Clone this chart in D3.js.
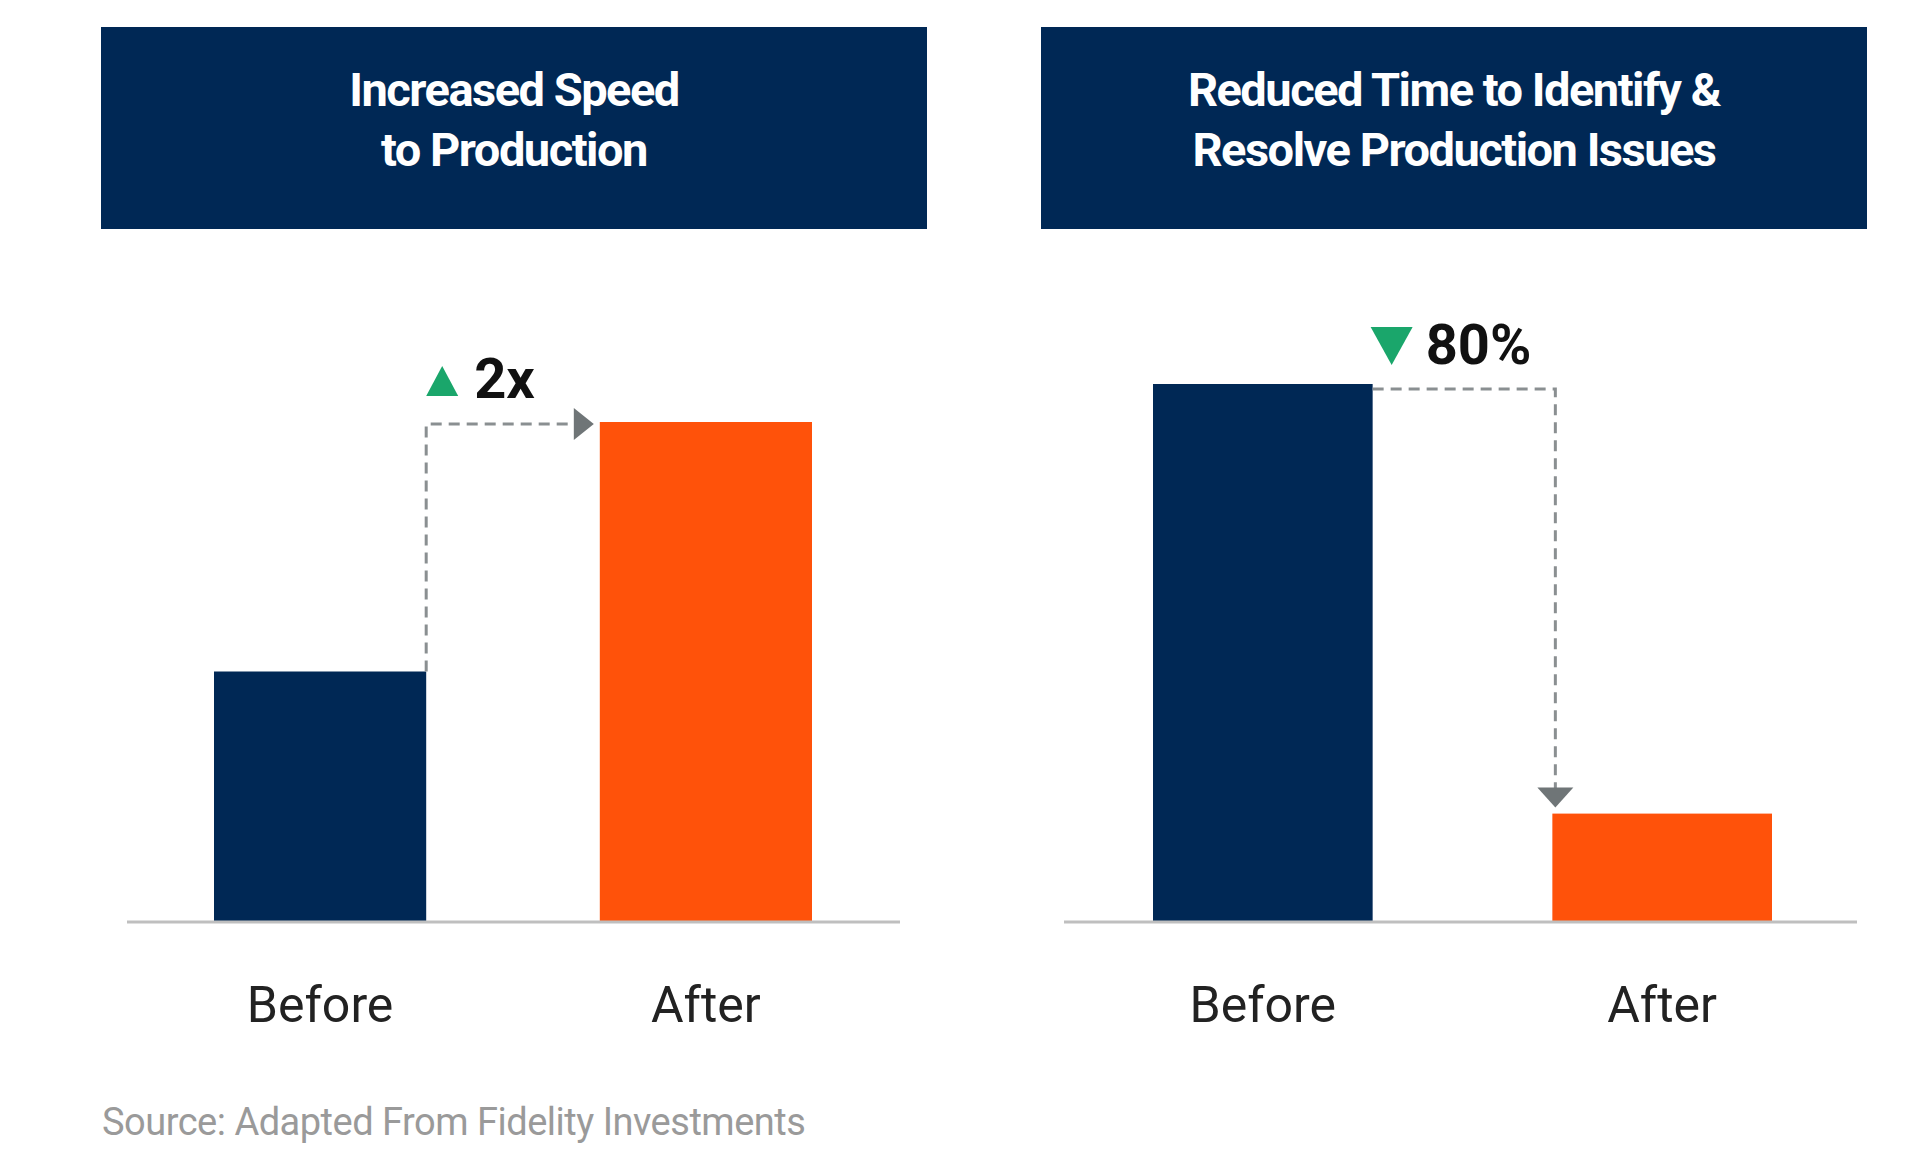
<!DOCTYPE html>
<html><head><meta charset="utf-8">
<script src="https://cdn.jsdelivr.net/npm/d3@7"></script>
<style>body{margin:0;background:#fff}</style></head>
<body><svg id="c" width="1920" height="1173"></svg>
<script>
const categories = ["Before", "After"];
const titles = [["Increased Speed", "to Production"], ["Reduced Time to Identify &", "Resolve Production Issues"]];
const speedValues = [50, 100];
const timeValues = [100, 20];
const changeLabels = ["2x", "80%"];
const source = "Source: Adapted From Fidelity Investments";

const svg = d3.select("#c");
const navy = "#002855", orange = "#ff520a", green = "#1aa66b", dash = "#8a8f91";
const font = "Roboto, 'Open Sans', sans-serif";
const baseY = 921;
const panels = [
  {title: titles[0], vals: speedValues, hx: 101, hw: 826, ax0: 127, ax1: 900, b0: 214, b1: 812, topPx: 422, up: true},
  {title: titles[1], vals: timeValues, hx: 1041, hw: 826, ax0: 1064, ax1: 1857, b0: 1153, b1: 1772, topPx: 384, up: false}
];
panels.forEach((p, i) => {
  const g = svg.append("g");
  g.append("rect").attr("x", p.hx).attr("y", 27).attr("width", p.hw).attr("height", 202).attr("fill", navy);
  p.title.forEach((t, j) => g.append("text").attr("x", p.hx + p.hw / 2).attr("y", 106 + j * 60)
    .attr("text-anchor", "middle").attr("fill", "#fff").attr("font-family", font).attr("font-weight", 700)
    .attr("font-size", 47).attr("letter-spacing", -1.5).text(t));
  const x = d3.scaleBand().domain(categories).range([p.b0, p.b1]).paddingInner(0.45).paddingOuter(0);
  const y = d3.scaleLinear().domain([0, d3.max(p.vals)]).range([baseY, p.topPx]);
  g.selectAll(".bar").data(p.vals).join("rect")
    .attr("x", (d, k) => x(categories[k])).attr("width", x.bandwidth())
    .attr("y", d => y(d)).attr("height", d => baseY - y(d))
    .attr("fill", (d, k) => k === 0 ? navy : orange);
  g.append("line").attr("x1", p.ax0).attr("x2", p.ax1).attr("y1", baseY + 1).attr("y2", baseY + 1)
    .attr("stroke", "#bfbfbf").attr("stroke-width", 3);
  categories.forEach(c => g.append("text").attr("x", x(c) + x.bandwidth() / 2).attr("y", 1022)
    .attr("text-anchor", "middle").attr("font-family", font).attr("font-size", 50).attr("fill", "#222").text(c));
  const xb = x("Before"), xa = x("After"), bw = x.bandwidth();
  if (p.up) {
    const yA = y(p.vals[1]);
    g.append("path").attr("d", `M${xb + bw},${y(p.vals[0])}V${yA + 2}H${xa - 18}`)
      .attr("fill", "none").attr("stroke", dash).attr("stroke-width", 3).attr("stroke-dasharray", "11,7");
    g.append("path").attr("d", `M${xa - 26},${yA - 14}L${xa - 6},${yA + 2}L${xa - 26},${yA + 18}Z`).attr("fill", "#6f7577");
    g.append("path").attr("d", `M${xb + bw},${396}L${xb + bw + 32},${396}L${xb + bw + 16},${366}Z`).attr("fill", green);
    g.append("text").attr("x", xb + bw + 48).attr("y", 398).attr("font-family", font).attr("font-weight", 700)
      .attr("font-size", 56).attr("fill", "#111").text(changeLabels[0]);
  } else {
    const yB = y(p.vals[0]), yA = y(p.vals[1]), xm = xa + 3;
    g.append("path").attr("d", `M${xb + bw},${yB + 5}H${xm}V${yA - 24}`)
      .attr("fill", "none").attr("stroke", dash).attr("stroke-width", 3).attr("stroke-dasharray", "11,7");
    g.append("path").attr("d", `M${xm - 18},${yA - 26}L${xm + 18},${yA - 26}L${xm},${yA - 6}Z`).attr("fill", "#6f7577");
    g.append("path").attr("d", `M${xb + bw - 2},${327}L${xb + bw + 40},${327}L${xb + bw + 19},${365}Z`).attr("fill", green);
    g.append("text").attr("x", xb + bw + 53).attr("y", 364).attr("font-family", font).attr("font-weight", 700)
      .attr("font-size", 56).attr("fill", "#111").text(changeLabels[1]);
  }
});
svg.append("text").attr("x", 102).attr("y", 1135).attr("font-family", font).attr("font-size", 38)
  .attr("fill", "#9a9a9a").attr("letter-spacing", -0.5).text(source);
</script></body></html>
